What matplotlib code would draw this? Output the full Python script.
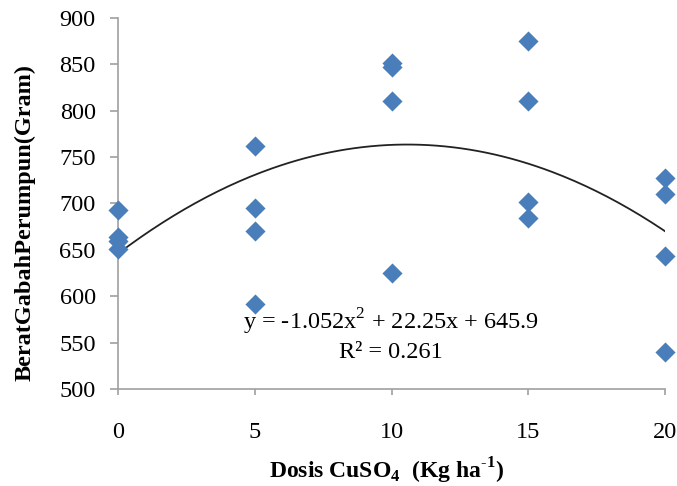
import numpy as np
import matplotlib
matplotlib.use("Agg")
import matplotlib.pyplot as plt

plt.rcParams['font.family'] = ['Liberation Serif', 'DejaVu Serif']
plt.rcParams['mathtext.fontset'] = 'custom'
plt.rcParams['mathtext.rm'] = 'Liberation Serif'
plt.rcParams['mathtext.bf'] = 'Liberation Serif:bold'

# CuSO4 dose (kg/ha) and grain weight per clump (gram)
dose = [0, 0, 0, 0, 5, 5, 5, 5, 10, 10, 10, 10, 15, 15, 15, 15, 20, 20, 20, 20]
weight = [693, 664, 660, 651,
          762, 695, 670, 592,
          851, 847, 810, 625,
          875, 810, 702, 684,
          727, 710, 643, 540]

# polynomial trendline coefficients as printed on the chart
coef = [-1.052, 22.25, 645.9]
r2 = 0.261

fig = plt.figure(figsize=(6.77, 4.86), dpi=100)
ax = fig.add_axes([0.1743, 0.1996, 0.808, 0.7634])

ax.scatter(dose, weight, marker='D', s=105, color='#4a7ebb', zorder=3, linewidths=0)

xs = np.linspace(0, 20, 200)
ax.plot(xs, np.polyval(coef, xs), color='#222222', lw=1.3, zorder=2)

ax.text(9.98, 572, 'y = -1.052x$^{2}$ + 22.25x + 645.9', ha='center', va='center', fontsize=17.5)
ax.text(9.98, 539, 'R² = %.3f' % r2, ha='center', va='center', fontsize=17.5)

ax.set_xlim(0, 20)
ax.set_ylim(500, 900)
ax.set_xticks([0, 5, 10, 15, 20])
ax.set_yticks(range(500, 901, 50))
ax.tick_params(labelsize=17.5, color='#a0a0a0', width=1.2)
ax.tick_params(axis='y', length=6, pad=10)
ax.tick_params(axis='x', length=4, pad=20)

for s in ['top', 'right']:
    ax.spines[s].set_visible(False)
for s in ['left', 'bottom']:
    ax.spines[s].set_color('#a0a0a0')
    ax.spines[s].set_linewidth(1.2)
for c in ax.collections:
    c.set_clip_on(False)

fig.text(25 / 677, 1 - 222 / 486, 'BeratGabahPerumpun(Gram)', rotation=90,
         fontsize=17.5, fontweight='bold', ha='center', va='center')
fig.text(386 / 677, 1 - 471 / 486, 'Dosis CuSO$_\\mathbf{4}$  (Kg ha$^\\mathbf{\\text{-}1}$)',
         fontsize=17, fontweight='bold', ha='center', va='center')

fig.savefig('out.png', dpi=100)
